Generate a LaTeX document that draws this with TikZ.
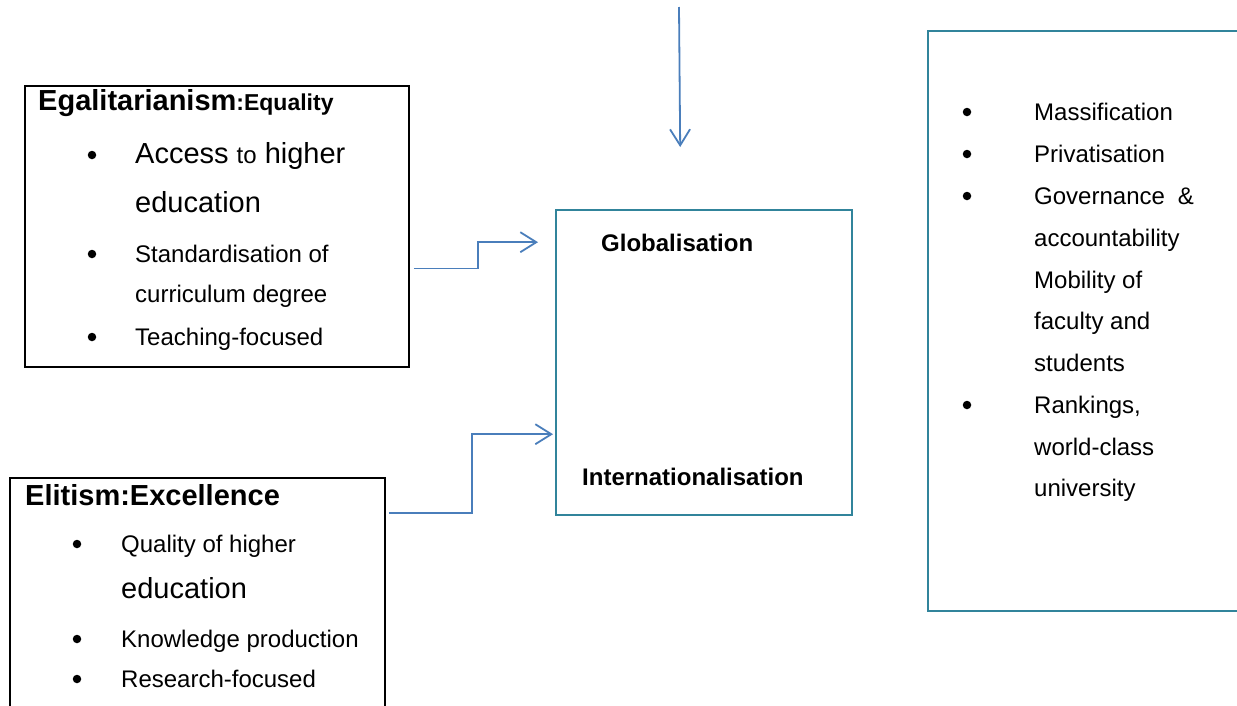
\documentclass[tikz,border=0pt]{standalone}
\usepackage{fontspec}
\setmainfont{Liberation Sans}
\usetikzlibrary{arrows.meta}
\newcommand\fsz[1]{\fontsize{#1}{#1}\selectfont}
\definecolor{tealline}{RGB}{49,132,155}
\definecolor{arrowblue}{RGB}{74,126,187}
\tikzset{
  blackbox/.style={draw=black, line width=1.8pt, anchor=north west, inner sep=0, fill=white},
  tealbox/.style={draw=tealline, line width=2.4pt, anchor=north west, inner sep=0, fill=white},
  arr/.style={draw=arrowblue, line width=1.8pt, -{Straight Barb[length=16pt, width=20pt, line width=1.8pt]}},
  txt/.style={anchor=base west, inner sep=0, font=\fsz{24}},
  big/.style={anchor=base west, inner sep=0, font=\fsz{29}},
  head/.style={anchor=base west, inner sep=0, font=\fsz{29}\bfseries},
  core/.style={anchor=base west, inner sep=0, font=\fsz{24}\bfseries},
  dot/.style={circle, fill=black, inner sep=0, minimum size=8.5pt, yshift=8pt}
}
\begin{document}
\begin{tikzpicture}[x=1pt, y=-1pt]
\useasboundingbox (0,0) rectangle (1237,705);

% boxes
\node[blackbox, minimum width=384pt, minimum height=281pt] (ega) at (24,85) {};
\node[blackbox, minimum width=375pt, minimum height=250pt] (eli) at (9,477) {};
\node[tealbox, minimum width=296pt, minimum height=305pt] (hub) at (555,209) {};
\node[tealbox, minimum width=330pt, minimum height=580pt] (trend) at (927,30) {};

% egalitarianism box
\node[head] (egah) at (38,110) {Egalitarianism\fsz{23}:Equality};
\node[dot] (egb1) at (92,163) {};
\node[big] (ega1) at (135,163) {Access {\fsz{24}to} higher};
\node[big] (ega1b) at (135,212) {education};
\node[dot] (egb2) at (92,262) {};
\node[txt] (ega2) at (135,262) {Standardisation of};
\node[txt] (ega2b) at (135,302) {curriculum degree};
\node[dot] (egb3) at (92,345) {};
\node[txt] (ega3) at (135,345) {Teaching-focused};

% elitism box
\node[head] (elih) at (25,505) {Elitism:Excellence};
\node[dot] (elb1) at (77,552) {};
\node[txt] (eli1) at (121,552) {Quality of higher};
\node[big] (eli1b) at (121,598) {education};
\node[dot] (elb2) at (77,647) {};
\node[txt] (eli2) at (121,647) {Knowledge production};
\node[dot] (elb3) at (77,687) {};
\node[txt] (eli3) at (121,687) {Research-focused};

% central box
\node[core] (glob) at (601,251) {Globalisation};
\node[core] (intl) at (582,485) {Internationalisation};

% trends box
\node[dot] (trb1) at (967,120) {};
\node[txt] (tr1) at (1034,120) {Massification};
\node[dot] (trb2) at (967,162) {};
\node[txt] (tr2) at (1034,162) {Privatisation};
\node[dot] (trb3) at (967,204) {};
\node[txt] (tr3) at (1034,204) {Governance\hspace{13pt}\&};
\node[txt] (tr3b) at (1034,246) {accountability};
\node[txt] (tr4) at (1034,288) {Mobility of};
\node[txt] (tr4b) at (1034,329) {faculty and};
\node[txt] (tr4c) at (1034,371) {students};
\node[dot] (trb5) at (967,413) {};
\node[txt] (tr5) at (1034,413) {Rankings,};
\node[txt] (tr5b) at (1034,455) {world-class};
\node[txt] (tr5c) at (1034,496) {university};

% connectors
\coordinate (src) at (679,7);
\draw[arr] (src) -- ([shift={(-24,-62)}]hub.north);
\draw[arr] ([shift={(4,42)}]ega.east) -- ++(64,0) |- ([shift={(-17,-120.5)}]hub.west);
\draw[arr] ([shift={(3,36)}]eli.north east) -- ++(83,0) |- ([shift={(-2,71.5)}]hub.west);
\end{tikzpicture}
\end{document}
